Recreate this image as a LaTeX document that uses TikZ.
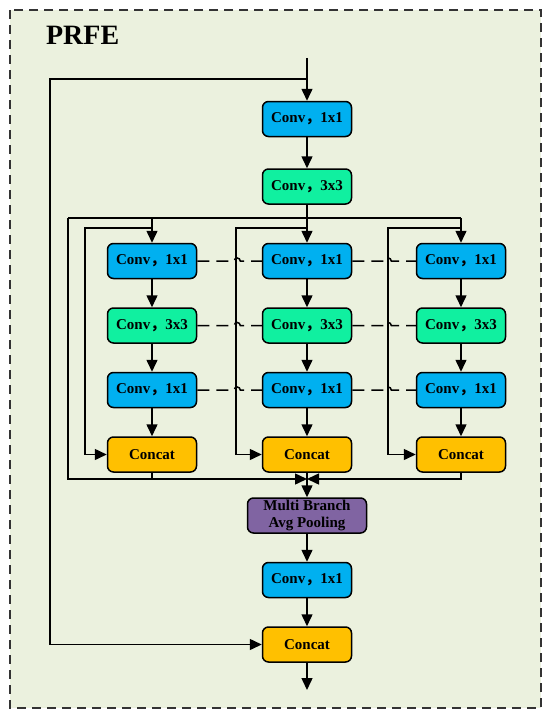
\documentclass[tikz,border=0pt]{standalone}
\usepackage{fontspec}
\setmainfont{Liberation Serif}
\newfontfamily\cjk{Noto Sans CJK SC}
\usetikzlibrary{positioning}
\usetikzlibrary{arrows.meta}
\definecolor{bgpanel}{HTML}{EBF1DE}
\definecolor{convblue}{HTML}{00B0F0}
\definecolor{convgreen}{HTML}{10F0A0}
\definecolor{catyellow}{HTML}{FFC000}
\definecolor{poolpurple}{HTML}{8064A2}
\newcommand{\convtxt}[1]{Conv{\cjk ，}#1}
\tikzset{
  blk/.style={draw,rounded corners=6pt,line width=1.5pt,minimum width=89pt,minimum height=35pt,
    inner sep=1pt,font=\fontsize{15}{17}\selectfont\bfseries,align=center},
  conva/.style={blk,fill=convblue},
  convb/.style={blk,fill=convgreen},
  cat/.style={blk,fill=catyellow},
  pool/.style={blk,fill=poolpurple,minimum width=119pt},
  link/.style={dash pattern=on 12pt off 7pt,line width=1.5pt},
}

\begin{document}
\begin{tikzpicture}[x=1pt,y=1pt,node distance=28pt,line width=1.5pt,>={Triangle[length=12pt,width=11pt]}]
  \useasboundingbox (0,0) rectangle (550,-717);
  \draw[fill=bgpanel,draw=black!80,line width=2pt,dash pattern=on 9pt off 6pt] (10,-10) rectangle (541,-708);
  \node[anchor=base west,font=\fontsize{28}{30}\selectfont\bfseries] (title) at (42,-45) {PRFE};

  \coordinate (in) at (307,-58);
  \node[conva] (top1) at (307,-119) {\convtxt{1x1}};
  \node[convb,below=31pt of top1] (top3) {\convtxt{3x3}};

  % three branches
  \node[conva] (a1) at (152,-261) {\convtxt{1x1}};
  \node[convb,below= of a1] (a2) {\convtxt{3x3}};
  \node[conva,below= of a2] (a3) {\convtxt{1x1}};
  \node[cat,below= of a3] (a4) {Concat};
  \node[conva] (b1) at (307,-261) {\convtxt{1x1}};
  \node[convb,below= of b1] (b2) {\convtxt{3x3}};
  \node[conva,below= of b2] (b3) {\convtxt{1x1}};
  \node[cat,below= of b3] (b4) {Concat};
  \node[conva] (c1) at (461,-261) {\convtxt{1x1}};
  \node[convb,below= of c1] (c2) {\convtxt{3x3}};
  \node[conva,below= of c2] (c3) {\convtxt{1x1}};
  \node[cat,below= of c3] (c4) {Concat};

  \node[pool] (avg) at (307,-515.5) {Multi Branch\\Avg Pooling};
  \node[conva,below= of avg] (out1) {\convtxt{1x1}};
  \node[cat,below= of out1] (outcat) {Concat};
  \coordinate (out) at (307,-690);

  \coordinate (skip) at (307,-79);
  \coordinate (split) at (307,-218);
  \coordinate (merge) at (307,-479);

  \draw[->] (in)--(top1);
  \draw[->] (top1)--(top3);
  \draw[->] (top3)--(b1);
  \draw (68,-218)--(461,-218);
  \draw[->] (152,-218)--(a1);
  \draw[->] (461,-218)--(c1);
  \draw[->] (a1)--(a2);
  \draw[->] (a2)--(a3);
  \draw[->] (a3)--(a4);
  \draw[->] (b1)--(b2);
  \draw[->] (b2)--(b3);
  \draw[->] (b3)--(b4);
  \draw[->] (c1)--(c2);
  \draw[->] (c2)--(c3);
  \draw[->] (c3)--(c4);
  % bypass of each branch
  \draw[->] (152,-228)--(85,-228)|-(a4.west);
  \draw[->] (307,-228)--(236,-228)|-(b4.west);
  \draw[->] (461,-228)--(388,-228)|-(c4.west);
  % dashed links between branches
  \foreach \r in {1,2,3}{
    \draw[link] (a\r.east)--++(37,0) arc[start angle=180,end angle=0,radius=3pt]--(b\r.west);
    \draw[link] (b\r.east)--++(33,0) arc[start angle=180,end angle=0,radius=3pt]--(c\r.west);
  }
  % merge
  \draw (a4.south)--(152,-479);
  \draw (b4.south)--(merge);
  \draw[->] (68,-218)--(68,-479)--(merge);
  \draw[->] (c4.south)|-(merge);
  \draw[->] (merge)--(avg);
  \draw[->] (avg)--(out1);
  \draw[->] (out1)--(outcat);
  \draw[->] (outcat)--(out);
  \draw[->] (skip)--(50,-79)|-(outcat.west);
\end{tikzpicture}
\end{document}
